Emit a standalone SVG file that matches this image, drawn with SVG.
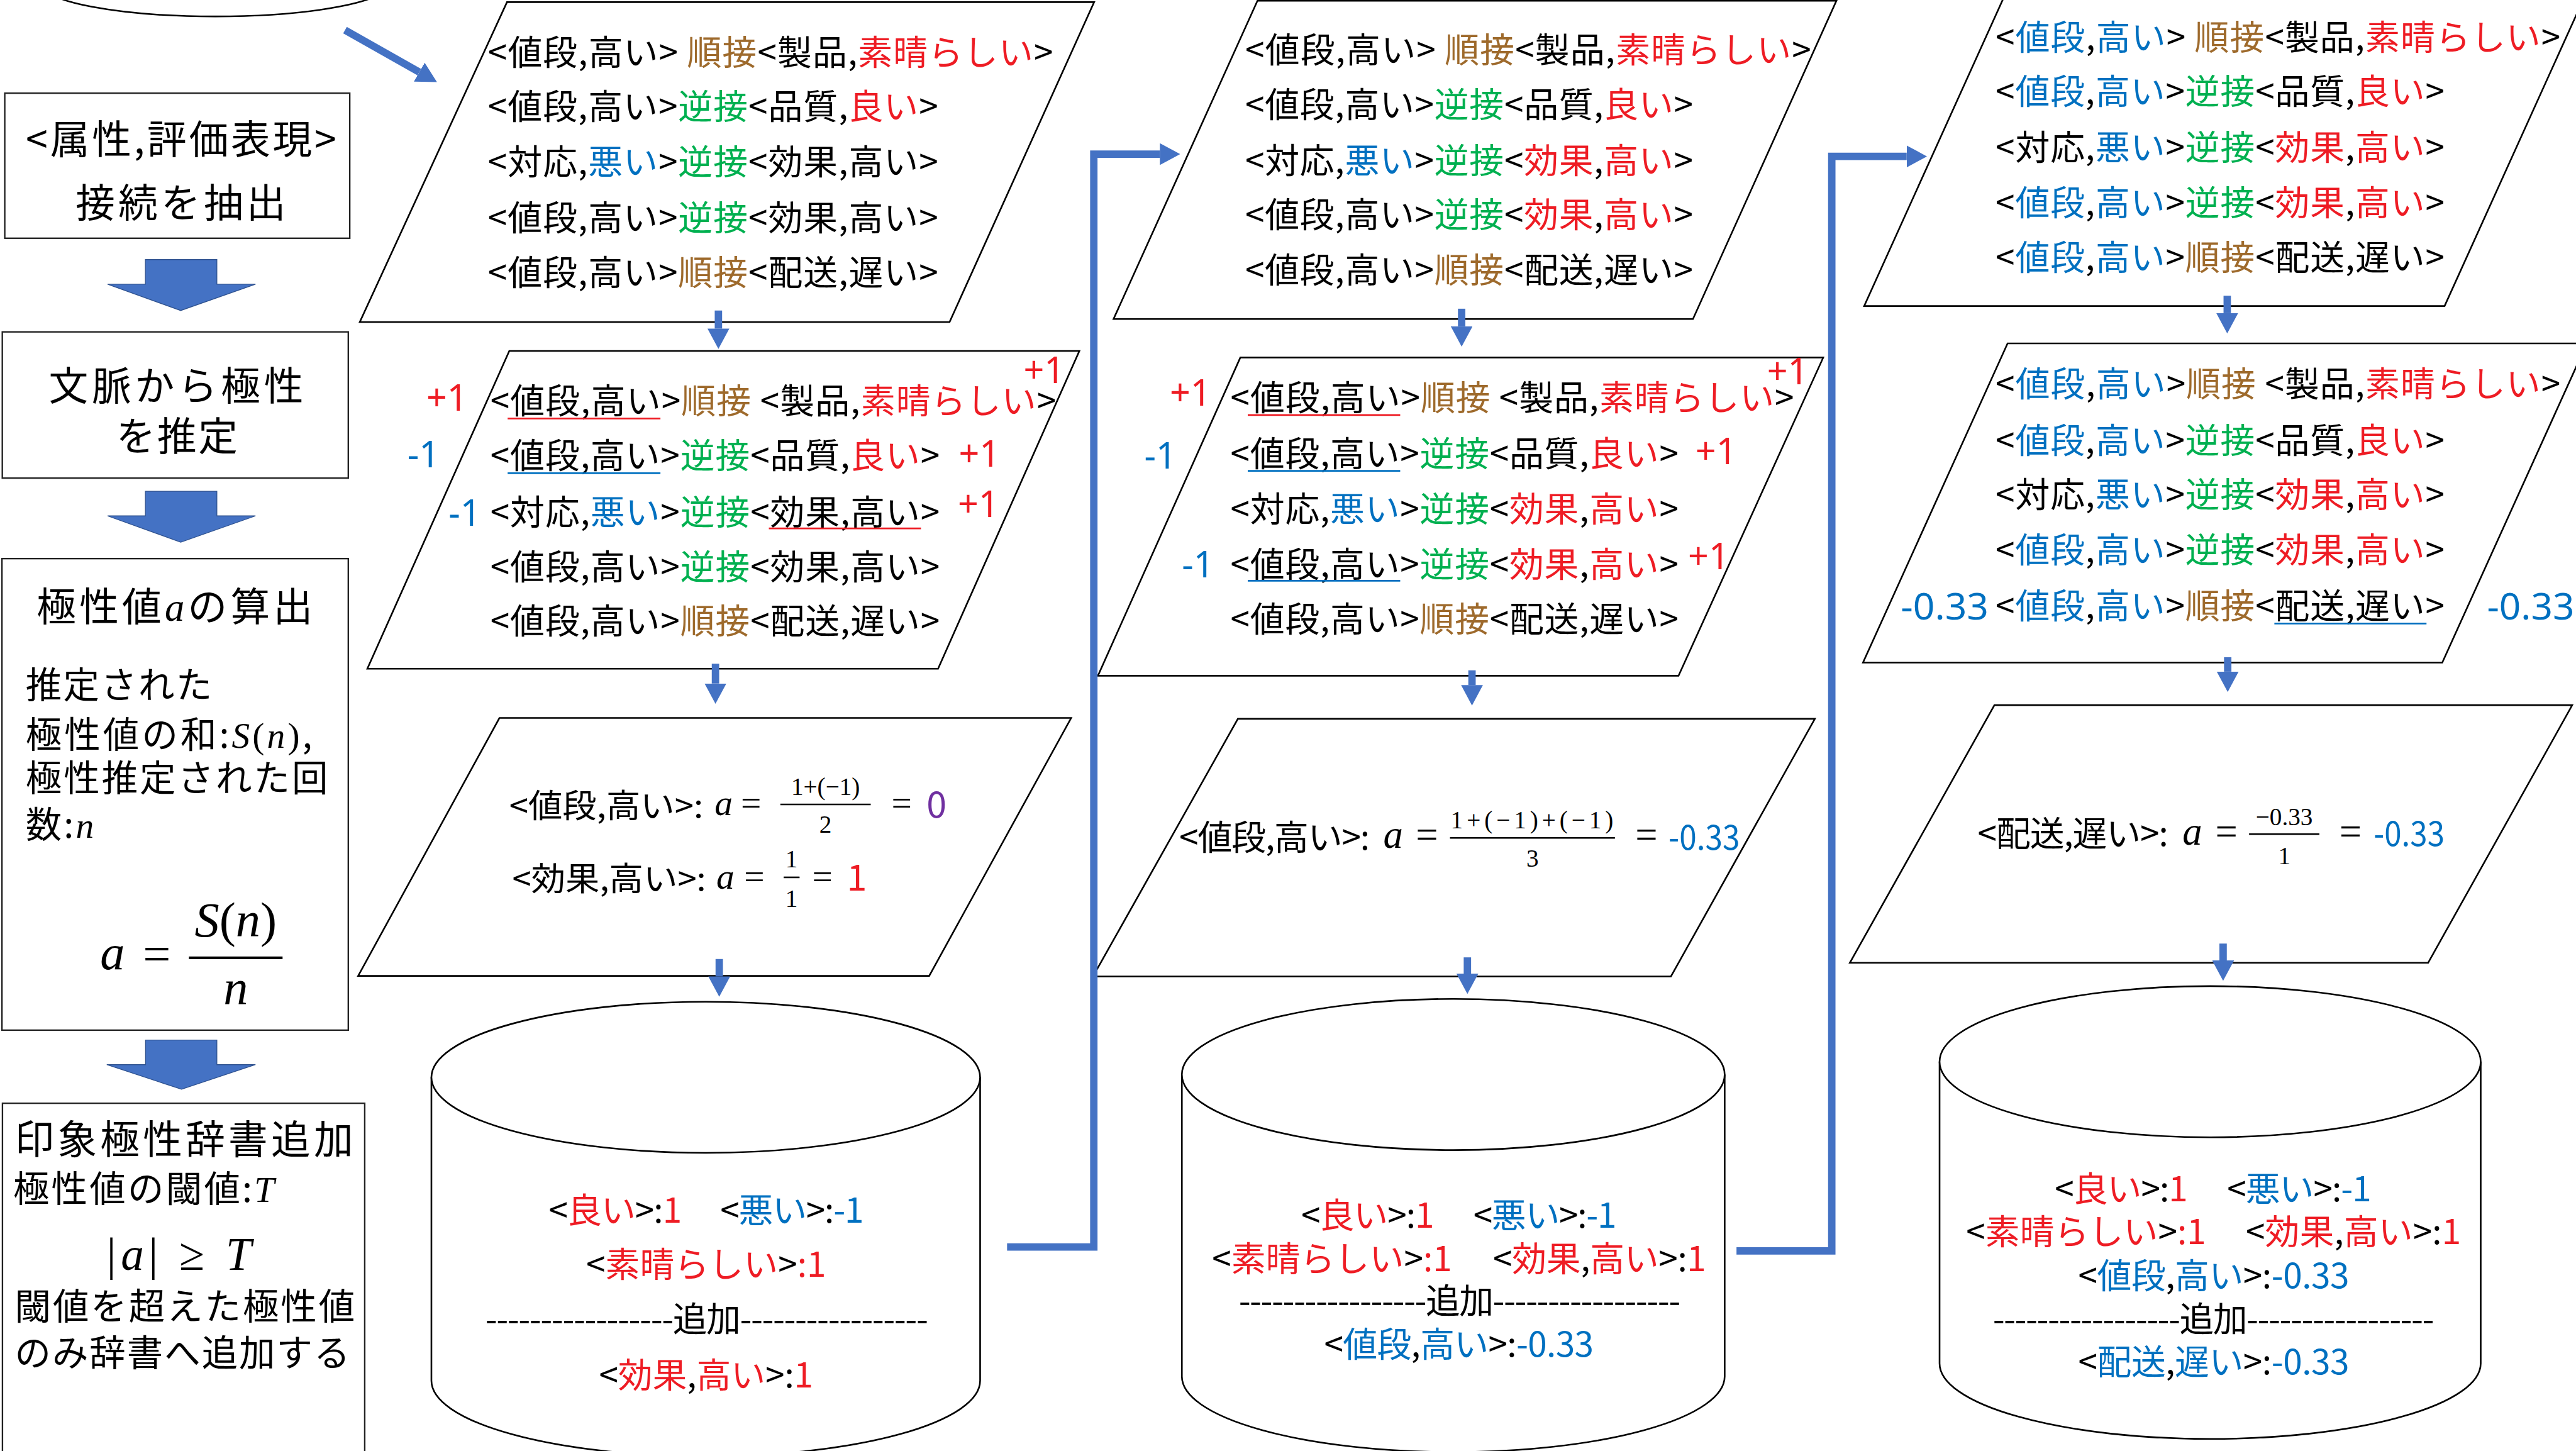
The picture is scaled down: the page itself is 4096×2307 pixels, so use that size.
<svg xmlns="http://www.w3.org/2000/svg" width="4096" height="2307" viewBox="0 0 4096 2307">
<style>
.t{font-family:"Noto Sans CJK JP","Noto Sans",sans-serif;fill:#000}
.f21{font-size:21px}
.f22{font-size:22px}
.f24{font-size:24px}
.m{font-family:"Liberation Serif","DejaVu Serif",serif;font-style:italic}
.n{font-family:"Liberation Serif","DejaVu Serif",serif;font-style:normal}
.lbl{font-family:"Noto Sans","Open Sans",sans-serif;font-size:22px}
.r{fill:#EE1C24}.b{fill:#0070C0}.g{fill:#00B050}.br{fill:#9E6A2C}.p{fill:#7030A0}
.shape{fill:#fff;stroke:#000;stroke-width:1}
.box{fill:#fff;stroke:#222;stroke-width:0.9}
.conn{fill:none;stroke:#4472C4;stroke-width:4.5}
.blk{fill:#4472C4;stroke:#2F528F;stroke-width:0.5}
.ul{stroke-width:1.1}
</style>
<defs>
<marker id="ah" viewBox="0 0 10 10" refX="0" refY="5" markerWidth="2.75" markerHeight="2.95" orient="auto" markerUnits="strokeWidth" preserveAspectRatio="none"><path d="M0,0 L10,5 L0,10 z" fill="#4472C4"/></marker>
</defs>
<rect width="4096" height="2307" fill="#fff"/>
<g transform="scale(2.612245)">

<g id="db0"><ellipse class="shape" cx="131" cy="-10" rx="106" ry="20"/></g>

<g id="box1">
<rect class="box" x="2.9" y="56.7" width="210" height="88.3"/>
<text class="t f24" x="15.7" y="93.5" textLength="189" lengthAdjust="spacing">&lt;属性,評価表現&gt;</text>
<text class="t f24" x="46" y="132" textLength="128" lengthAdjust="spacing">接続を抽出</text>
</g>
<g id="box2">
<rect class="box" x="1.4" y="202" width="210.6" height="89"/>
<text class="t f24" x="29.7" y="243.3" textLength="155" lengthAdjust="spacing">文脈から極性</text>
<text class="t f24" x="70.7" y="274" textLength="74" lengthAdjust="spacing">を推定</text>
</g>
<g id="box3">
<rect class="box" x="1.2" y="340" width="210.8" height="287"/>
<text class="t f24" x="22.3" y="378" textLength="168" lengthAdjust="spacing">極性値<tspan class="m">a</tspan>の算出</text>
<text class="t f22" x="15.6" y="425" textLength="113.5" lengthAdjust="spacing">推定された</text>
<text class="t f22" x="15.6" y="455" textLength="174.5" lengthAdjust="spacing">極性値の和:<tspan class="m">S</tspan><tspan class="n">(</tspan><tspan class="m">n</tspan><tspan class="n">)</tspan>,</text>
<text class="t f22" x="15.6" y="481.5" textLength="184" lengthAdjust="spacing">極性推定された回</text>
<text class="t f22" x="15.6" y="509.8" textLength="41.5" lengthAdjust="spacing">数:<tspan class="m">n</tspan></text>
<text class="m" x="61" y="590" font-size="30">a</text>
<text class="n" x="87" y="590.5" font-size="30">=</text>
<line x1="115" y1="583" x2="172" y2="583" stroke="#000" stroke-width="1.6"/>
<text class="n" x="143.5" y="570" font-size="30" text-anchor="middle"><tspan class="m">S</tspan>(<tspan class="m">n</tspan>)</text>
<text class="m" x="143.5" y="611.4" font-size="30" text-anchor="middle">n</text>
</g>
<g id="box4">
<rect class="box" x="1.5" y="671.5" width="220.5" height="240"/>
<text class="t f24" x="9" y="702" textLength="206" lengthAdjust="spacing">印象極性辞書追加</text>
<text class="t f22" x="8" y="731.5" textLength="159" lengthAdjust="spacing">極性値の閾値:<tspan class="m">T</tspan></text>
<text class="n" x="65" y="773" font-size="28" textLength="88" lengthAdjust="spacing">|<tspan class="m">a</tspan>| ≥ <tspan class="m">T</tspan></text>
<text class="t f22" x="9" y="803" textLength="207" lengthAdjust="spacing">閾値を超えた極性値</text>
<text class="t f22" x="9" y="831.5" textLength="204" lengthAdjust="spacing">のみ辞書へ追加する</text>
</g>

<!-- Column 1 -->
<g id="p1a">
<polygon class="shape" points="308.6,1.3 666,1.3 578,196 219,196"/>
<text class="t f21" x="297" y="39.3" textLength="344" lengthAdjust="spacing">&lt;値段,高い&gt; <tspan class="br">順接</tspan>&lt;製品,<tspan class="r">素晴らしい</tspan>&gt;</text>
<text class="t f21" x="297" y="72.5" textLength="274" lengthAdjust="spacing">&lt;値段,高い&gt;<tspan class="g">逆接</tspan>&lt;品質,<tspan class="r">良い</tspan>&gt;</text>
<text class="t f21" x="297" y="106.2" textLength="274" lengthAdjust="spacing">&lt;対応,<tspan class="b">悪い</tspan>&gt;<tspan class="g">逆接</tspan>&lt;効果,高い&gt;</text>
<text class="t f21" x="297" y="140.2" textLength="274" lengthAdjust="spacing">&lt;値段,高い&gt;<tspan class="g">逆接</tspan>&lt;効果,高い&gt;</text>
<text class="t f21" x="297" y="173.4" textLength="274" lengthAdjust="spacing">&lt;値段,高い&gt;<tspan class="br">順接</tspan>&lt;配送,遅い&gt;</text>
</g>
<g id="p1b">
<polygon class="shape" points="310,213.6 657,213.6 571,407 223.6,407"/>
<text class="t f21" x="298.5" y="251.5" textLength="344.3" lengthAdjust="spacing">&lt;値段,高い&gt;<tspan class="br">順接</tspan> &lt;製品,<tspan class="r">素晴らしい</tspan>&gt;</text>
<text class="t f21" x="298.5" y="284.8" textLength="273.5" lengthAdjust="spacing">&lt;値段,高い&gt;<tspan class="g">逆接</tspan>&lt;品質,<tspan class="r">良い</tspan>&gt;</text>
<text class="t f21" x="298.5" y="319.3" textLength="273.5" lengthAdjust="spacing">&lt;対応,<tspan class="b">悪い</tspan>&gt;<tspan class="g">逆接</tspan>&lt;効果,高い&gt;</text>
<text class="t f21" x="298.5" y="352.5" textLength="273.5" lengthAdjust="spacing">&lt;値段,高い&gt;<tspan class="g">逆接</tspan>&lt;効果,高い&gt;</text>
<text class="t f21" x="298.5" y="385.5" textLength="273.5" lengthAdjust="spacing">&lt;値段,高い&gt;<tspan class="br">順接</tspan>&lt;配送,遅い&gt;</text>
<line class="ul" x1="309" y1="254.7" x2="402" y2="254.7" stroke="#EE1C24"/>
<line class="ul" x1="309" y1="288" x2="402" y2="288" stroke="#0070C0"/>
<line class="ul" x1="468" y1="321.6" x2="560.6" y2="321.6" stroke="#EE1C24"/>
<text class="lbl r" x="259.5" y="250">+1</text>
<text class="lbl r" x="623" y="233">+1</text>
<text class="lbl b" x="248" y="284.6">-1</text>
<text class="lbl r" x="583.6" y="284">+1</text>
<text class="lbl b" x="273" y="320">-1</text>
<text class="lbl r" x="583" y="314.5">+1</text>
</g>
<g id="p1c">
<polygon class="shape" points="304,437 652,437 565.6,594 218,594"/>
<text class="t" font-size="20" x="310" y="497.5" textLength="118" lengthAdjust="spacingAndGlyphs">&lt;値段,高い&gt;:</text>
<text class="m" x="435" y="496" font-size="22">a</text>
<text class="n" x="451" y="496" font-size="22">=</text>
<line x1="475" y1="489.6" x2="530" y2="489.6" stroke="#000" stroke-width="1"/>
<text class="n" x="502.5" y="484" font-size="15" text-anchor="middle">1+(−1)</text>
<text class="n" x="502.5" y="507" font-size="15" text-anchor="middle">2</text>
<text class="n" x="542.6" y="496" font-size="22">=</text>
<text class="t p" x="564" y="497.5" font-size="22">0</text>
<text class="t" font-size="20" x="311.8" y="542" textLength="118" lengthAdjust="spacingAndGlyphs">&lt;効果,高い&gt;:</text>
<text class="m" x="436" y="541" font-size="22">a</text>
<text class="n" x="453" y="541" font-size="22">=</text>
<line x1="477" y1="534" x2="486.7" y2="534" stroke="#000" stroke-width="1"/>
<text class="n" x="481.8" y="528" font-size="15" text-anchor="middle">1</text>
<text class="n" x="481.8" y="552" font-size="15" text-anchor="middle">1</text>
<text class="n" x="494.4" y="541" font-size="22">=</text>
<text class="t r" x="515.5" y="542" font-size="22">1</text>
</g>
<g id="db1">
<path class="shape" d="M262.6,655.7 L262.6,840.4 A167,46 0 0 0 596.6,840.4 L596.6,655.7"/>
<ellipse class="shape" cx="429.6" cy="655.7" rx="167" ry="46"/>
<text class="t f21" x="334" y="744" textLength="81" lengthAdjust="spacing">&lt;<tspan class="r">良い</tspan>&gt;:<tspan class="r">1</tspan></text>
<text class="t f21" x="438.4" y="744" textLength="87.4" lengthAdjust="spacing">&lt;<tspan class="b">悪い</tspan>&gt;:<tspan class="b">-1</tspan></text>
<text class="t f21" x="356.8" y="777.3" textLength="146" lengthAdjust="spacing">&lt;<tspan class="r">素晴らしい</tspan>&gt;<tspan class="r">:1</tspan></text>
<text class="t f21" x="295.4" y="810.5" textLength="269.6" lengthAdjust="spacing">-----------------追加-----------------</text>
<text class="t f21" x="364.6" y="844.5" textLength="130.4" lengthAdjust="spacing">&lt;<tspan class="r">効果</tspan>,<tspan class="r">高い</tspan>&gt;:<tspan class="r">1</tspan></text>
</g>

<!-- Column 2 -->
<g id="p2a">
<polygon class="shape" points="765.4,0.5 1117.8,0.5 1030.5,194.2 677.8,194.2"/>
<text class="t f21" x="758" y="38" textLength="344.4" lengthAdjust="spacing">&lt;値段,高い&gt; <tspan class="br">順接</tspan>&lt;製品,<tspan class="r">素晴らしい</tspan>&gt;</text>
<text class="t f21" x="758" y="71.2" textLength="272.5" lengthAdjust="spacing">&lt;値段,高い&gt;<tspan class="g">逆接</tspan>&lt;品質,<tspan class="r">良い</tspan>&gt;</text>
<text class="t f21" x="758" y="105.2" textLength="272.5" lengthAdjust="spacing">&lt;対応,<tspan class="b">悪い</tspan>&gt;<tspan class="g">逆接</tspan>&lt;<tspan class="r">効果</tspan>,<tspan class="r">高い</tspan>&gt;</text>
<text class="t f21" x="758" y="138.3" textLength="272.5" lengthAdjust="spacing">&lt;値段,高い&gt;<tspan class="g">逆接</tspan>&lt;<tspan class="r">効果</tspan>,<tspan class="r">高い</tspan>&gt;</text>
<text class="t f21" x="758" y="172" textLength="272.5" lengthAdjust="spacing">&lt;値段,高い&gt;<tspan class="br">順接</tspan>&lt;配送,遅い&gt;</text>
</g>
<g id="p2b">
<polygon class="shape" points="755,217.6 1109.8,217.6 1021.7,411.3 668.3,411.3"/>
<text class="t f21" x="749" y="249.5" textLength="343" lengthAdjust="spacing">&lt;値段,高い&gt;<tspan class="br">順接</tspan> &lt;製品,<tspan class="r">素晴らしい</tspan>&gt;</text>
<text class="t f21" x="749" y="283.5" textLength="272.7" lengthAdjust="spacing">&lt;値段,高い&gt;<tspan class="g">逆接</tspan>&lt;品質,<tspan class="r">良い</tspan>&gt;</text>
<text class="t f21" x="749" y="317.5" textLength="272.7" lengthAdjust="spacing">&lt;対応,<tspan class="b">悪い</tspan>&gt;<tspan class="g">逆接</tspan>&lt;<tspan class="r">効果</tspan>,<tspan class="r">高い</tspan>&gt;</text>
<text class="t f21" x="749" y="351.1" textLength="272.7" lengthAdjust="spacing">&lt;値段,高い&gt;<tspan class="g">逆接</tspan>&lt;<tspan class="r">効果</tspan>,<tspan class="r">高い</tspan>&gt;</text>
<text class="t f21" x="749" y="384.3" textLength="272.7" lengthAdjust="spacing">&lt;値段,高い&gt;<tspan class="br">順接</tspan>&lt;配送,遅い&gt;</text>
<line class="ul" x1="759.5" y1="252.6" x2="852.3" y2="252.6" stroke="#EE1C24"/>
<line class="ul" x1="759.5" y1="286.6" x2="852.3" y2="286.6" stroke="#0070C0"/>
<line class="ul" x1="759.5" y1="353.5" x2="852.3" y2="353.5" stroke="#0070C0"/>
<text class="lbl r" x="712" y="246.8">+1</text>
<text class="lbl r" x="1075.6" y="234">+1</text>
<text class="lbl b" x="696.5" y="285.3">-1</text>
<text class="lbl r" x="1032" y="282.7">+1</text>
<text class="lbl b" x="719.4" y="351.6">-1</text>
<text class="lbl r" x="1027.5" y="346.4">+1</text>
</g>
<g id="p2c">
<polygon class="shape" points="753.5,437.5 1104.7,437.5 1017.1,594.3 665.3,594.3"/>
<text class="t f21" x="717.8" y="517" textLength="116" lengthAdjust="spacing">&lt;値段,高い&gt;:</text>
<text class="m" x="842" y="516" font-size="24">a</text>
<text class="n" x="861.8" y="516" font-size="24">=</text>
<line x1="882.6" y1="510" x2="983" y2="510" stroke="#000" stroke-width="1"/>
<text class="n" x="883" y="504" font-size="15" textLength="99" lengthAdjust="spacing">1+(−1)+(−1)</text>
<text class="n" x="932.8" y="527.5" font-size="15" text-anchor="middle">3</text>
<text class="n" x="995.4" y="516" font-size="24">=</text>
<text class="t b" x="1015.6" y="517" font-size="21" textLength="43.4" lengthAdjust="spacingAndGlyphs">-0.33</text>
</g>
<g id="db2">
<path class="shape" d="M719.4,654 L719.4,837.8 A165.2,46 0 0 0 1049.8,837.8 L1049.8,654"/>
<ellipse class="shape" cx="884.6" cy="654" rx="165.2" ry="46"/>
<text class="t f21" x="792" y="747.3" textLength="81" lengthAdjust="spacing">&lt;<tspan class="r">良い</tspan>&gt;:<tspan class="r">1</tspan></text>
<text class="t f21" x="896.8" y="747.3" textLength="87.2" lengthAdjust="spacing">&lt;<tspan class="b">悪い</tspan>&gt;:<tspan class="b">-1</tspan></text>
<text class="t f21" x="737.8" y="773.5" textLength="146" lengthAdjust="spacing">&lt;<tspan class="r">素晴らしい</tspan>&gt;<tspan class="r">:1</tspan></text>
<text class="t f21" x="908.8" y="773.5" textLength="129.7" lengthAdjust="spacing">&lt;<tspan class="r">効果</tspan>,<tspan class="r">高い</tspan>&gt;:<tspan class="r">1</tspan></text>
<text class="t f21" x="754" y="799.5" textLength="269" lengthAdjust="spacing">-----------------追加-----------------</text>
<text class="t f21" x="806" y="825.8" textLength="164" lengthAdjust="spacing">&lt;<tspan class="b">値段</tspan>,<tspan class="b">高い</tspan>&gt;:<tspan class="b">-0.33</tspan></text>
</g>

<!-- Column 3 -->
<g id="p3a">
<polygon class="shape" points="1219.9,-2 1573.2,-2 1488,186.3 1134.7,186.3"/>
<text class="t f21" x="1214.7" y="30.1" textLength="343.8" lengthAdjust="spacing">&lt;<tspan class="b">値段</tspan>,<tspan class="b">高い</tspan>&gt; <tspan class="br">順接</tspan>&lt;製品,<tspan class="r">素晴らしい</tspan>&gt;</text>
<text class="t f21" x="1214.7" y="63.2" textLength="273.3" lengthAdjust="spacing">&lt;<tspan class="b">値段</tspan>,<tspan class="b">高い</tspan>&gt;<tspan class="g">逆接</tspan>&lt;品質,<tspan class="r">良い</tspan>&gt;</text>
<text class="t f21" x="1214.7" y="97.2" textLength="273.3" lengthAdjust="spacing">&lt;対応,<tspan class="b">悪い</tspan>&gt;<tspan class="g">逆接</tspan>&lt;<tspan class="r">効果</tspan>,<tspan class="r">高い</tspan>&gt;</text>
<text class="t f21" x="1214.7" y="130.9" textLength="273.3" lengthAdjust="spacing">&lt;<tspan class="b">値段</tspan>,<tspan class="b">高い</tspan>&gt;<tspan class="g">逆接</tspan>&lt;<tspan class="r">効果</tspan>,<tspan class="r">高い</tspan>&gt;</text>
<text class="t f21" x="1214.7" y="164.1" textLength="273.3" lengthAdjust="spacing">&lt;<tspan class="b">値段</tspan>,<tspan class="b">高い</tspan>&gt;<tspan class="br">順接</tspan>&lt;配送,遅い&gt;</text>
</g>
<g id="p3b">
<polygon class="shape" points="1222,209 1574.6,209 1486.6,403.3 1134,403.3"/>
<text class="t f21" x="1214.7" y="241" textLength="343.8" lengthAdjust="spacing">&lt;<tspan class="b">値段</tspan>,<tspan class="b">高い</tspan>&gt;<tspan class="br">順接</tspan> &lt;製品,<tspan class="r">素晴らしい</tspan>&gt;</text>
<text class="t f21" x="1214.7" y="275.5" textLength="273.3" lengthAdjust="spacing">&lt;<tspan class="b">値段</tspan>,<tspan class="b">高い</tspan>&gt;<tspan class="g">逆接</tspan>&lt;品質,<tspan class="r">良い</tspan>&gt;</text>
<text class="t f21" x="1214.7" y="308.5" textLength="273.3" lengthAdjust="spacing">&lt;対応,<tspan class="b">悪い</tspan>&gt;<tspan class="g">逆接</tspan>&lt;<tspan class="r">効果</tspan>,<tspan class="r">高い</tspan>&gt;</text>
<text class="t f21" x="1214.7" y="342.4" textLength="273.3" lengthAdjust="spacing">&lt;<tspan class="b">値段</tspan>,<tspan class="b">高い</tspan>&gt;<tspan class="g">逆接</tspan>&lt;<tspan class="r">効果</tspan>,<tspan class="r">高い</tspan>&gt;</text>
<text class="t f21" x="1214.7" y="376.3" textLength="273.3" lengthAdjust="spacing">&lt;<tspan class="b">値段</tspan>,<tspan class="b">高い</tspan>&gt;<tspan class="br">順接</tspan>&lt;配送,遅い&gt;</text>
<line class="ul" x1="1384.4" y1="379.5" x2="1477" y2="379.5" stroke="#0070C0"/>
<text class="lbl b" x="1157" y="377" font-size="23" textLength="53.4" lengthAdjust="spacingAndGlyphs">-0.33</text>
<text class="lbl b" x="1513.8" y="377" font-size="23" textLength="53.2" lengthAdjust="spacingAndGlyphs">-0.33</text>
</g>
<g id="p3c">
<polygon class="shape" points="1214,429.2 1565.7,429.2 1478,586 1126,586"/>
<text class="t f21" x="1203.8" y="515" textLength="116" lengthAdjust="spacing">&lt;配送,遅い&gt;:</text>
<text class="m" x="1328.5" y="514" font-size="24">a</text>
<text class="n" x="1348.5" y="514" font-size="24">=</text>
<line x1="1369" y1="507.7" x2="1411.8" y2="507.7" stroke="#000" stroke-width="1"/>
<text class="n" x="1390.4" y="502.3" font-size="15" text-anchor="middle">−0.33</text>
<text class="n" x="1390.5" y="526" font-size="15" text-anchor="middle">1</text>
<text class="n" x="1424" y="514" font-size="24">=</text>
<text class="t b" x="1444.8" y="515" font-size="21" textLength="43.2" lengthAdjust="spacingAndGlyphs">-0.33</text>
</g>
<g id="db3">
<path class="shape" d="M1180.6,646.2 L1180.6,829.8 A164.7,46 0 0 0 1510,829.8 L1510,646.2"/>
<ellipse class="shape" cx="1345.3" cy="646.2" rx="164.7" ry="46"/>
<text class="t f21" x="1250.7" y="731.3" textLength="81" lengthAdjust="spacing">&lt;<tspan class="r">良い</tspan>&gt;:<tspan class="r">1</tspan></text>
<text class="t f21" x="1355.6" y="731.3" textLength="87.9" lengthAdjust="spacing">&lt;<tspan class="b">悪い</tspan>&gt;:<tspan class="b">-1</tspan></text>
<text class="t f21" x="1196.8" y="757.3" textLength="146" lengthAdjust="spacing">&lt;<tspan class="r">素晴らしい</tspan>&gt;<tspan class="r">:1</tspan></text>
<text class="t f21" x="1367" y="757.3" textLength="131" lengthAdjust="spacing">&lt;<tspan class="r">効果</tspan>,<tspan class="r">高い</tspan>&gt;:<tspan class="r">1</tspan></text>
<text class="t f21" x="1265" y="784" textLength="165" lengthAdjust="spacing">&lt;<tspan class="b">値段</tspan>,<tspan class="b">高い</tspan>&gt;:<tspan class="b">-0.33</tspan></text>
<text class="t f21" x="1213" y="810.5" textLength="268.7" lengthAdjust="spacing">-----------------追加-----------------</text>
<text class="t f21" x="1265" y="836.5" textLength="165" lengthAdjust="spacing">&lt;<tspan class="b">配送</tspan>,<tspan class="b">遅い</tspan>&gt;:<tspan class="b">-0.33</tspan></text>
</g>

<g id="connectors">
<polygon class="blk" points="88.5,158 132,158 132,173 155.5,173 110,189 65.5,173 88.5,173"/>
<polygon class="blk" points="88.5,299 132,299 132,314 155.5,314 110,330 65.5,314 88.5,314"/>
<polygon class="blk" points="88.6,633 132,633 132,648 155.5,648 110.5,663 65,648 88.6,648"/>
<line class="conn" x1="210" y1="18.3" x2="255.2" y2="43.9" marker-end="url(#ah)"/>
<line class="conn" x1="437.3" y1="189" x2="437.3" y2="200" marker-end="url(#ah)"/>
<line class="conn" x1="435.5" y1="404" x2="435.5" y2="416" marker-end="url(#ah)"/>
<line class="conn" x1="437.8" y1="583.7" x2="437.8" y2="594.3" marker-end="url(#ah)"/>
<path class="conn" d="M613,759 H665.8 V93.8 H706" marker-end="url(#ah)"/>
<line class="conn" x1="889.7" y1="187.9" x2="889.7" y2="198.6" marker-end="url(#ah)"/>
<line class="conn" x1="896" y1="408" x2="896" y2="417" marker-end="url(#ah)"/>
<line class="conn" x1="893.2" y1="582.7" x2="893.2" y2="592.6" marker-end="url(#ah)"/>
<path class="conn" d="M1057,761.4 H1115 V95.2 H1160.6" marker-end="url(#ah)"/>
<line class="conn" x1="1355.7" y1="180" x2="1355.7" y2="190.6" marker-end="url(#ah)"/>
<line class="conn" x1="1356" y1="400" x2="1356" y2="408.8" marker-end="url(#ah)"/>
<line class="conn" x1="1353.2" y1="574.3" x2="1353.2" y2="584.6" marker-end="url(#ah)"/>
</g>
</g>
</svg>
